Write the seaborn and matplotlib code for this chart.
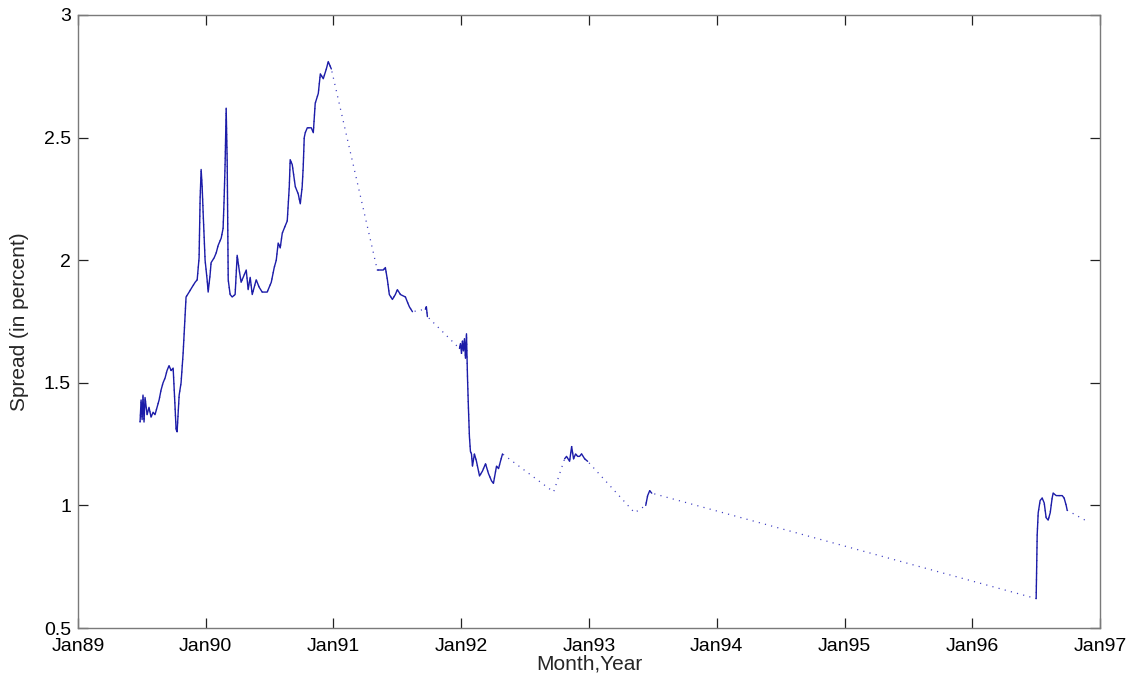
import matplotlib
matplotlib.use("Agg")
import matplotlib.pyplot as plt
from matplotlib.ticker import FormatStrFormatter
import numpy as np
import pandas as pd
import seaborn as sns

# Observation dates (decimal years) and yield spread in percent.
# Observations more than a few weeks apart are bridged by a dotted line.
years = [
    1989.486, 1989.494, 1989.502, 1989.509, 1989.517, 1989.525, 1989.541, 1989.556,
    1989.572, 1989.588, 1989.603, 1989.619, 1989.635, 1989.650, 1989.666, 1989.682,
    1989.697, 1989.713, 1989.729, 1989.745, 1989.760, 1989.768, 1989.776, 1989.792,
    1989.807, 1989.823, 1989.839, 1989.846, 1989.870, 1989.893, 1989.917, 1989.933,
    1989.948, 1989.956, 1989.964, 1989.972, 1989.980, 1989.995, 1990.011, 1990.019,
    1990.034, 1990.042, 1990.066, 1990.082, 1990.097, 1990.121, 1990.136, 1990.144,
    1990.152, 1990.160, 1990.168, 1990.176, 1990.191, 1990.207, 1990.230, 1990.246,
    1990.262, 1990.277, 1990.301, 1990.317, 1990.332, 1990.348, 1990.364, 1990.395,
    1990.418, 1990.442, 1990.481, 1990.513, 1990.536, 1990.552, 1990.567, 1990.583,
    1990.599, 1990.622, 1990.638, 1990.654, 1990.661, 1990.677, 1990.701, 1990.724,
    1990.740, 1990.755, 1990.763, 1990.771, 1990.779, 1990.795, 1990.826, 1990.842,
    1990.857, 1990.881, 1990.897, 1990.920, 1990.944, 1990.959, 1990.983,
    1991.343, 1991.367, 1991.390, 1991.406, 1991.422, 1991.437, 1991.461, 1991.484,
    1991.500, 1991.524, 1991.563, 1991.578, 1991.594, 1991.618,
    1991.719, 1991.727, 1991.735,
    1991.986, 1991.994, 1992.002, 1992.009, 1992.017, 1992.025, 1992.033, 1992.041,
    1992.049, 1992.056, 1992.064, 1992.072, 1992.080, 1992.088, 1992.103, 1992.119,
    1992.143, 1992.166, 1992.190, 1992.213, 1992.237, 1992.252, 1992.276, 1992.292,
    1992.307, 1992.323,
    1992.723,
    1992.809, 1992.824, 1992.848, 1992.864, 1992.879, 1992.895, 1992.911, 1992.926,
    1992.942, 1992.966, 1992.989,
    1993.357,
    1993.444, 1993.459, 1993.475, 1993.491,
    1996.500, 1996.508, 1996.516, 1996.531, 1996.547, 1996.563, 1996.578, 1996.594,
    1996.610, 1996.625, 1996.633, 1996.657, 1996.680, 1996.704, 1996.719, 1996.735,
    1996.743,
    1996.900,
]

spread = [
    1.34, 1.43, 1.35, 1.45, 1.34, 1.44, 1.37, 1.40,
    1.36, 1.38, 1.37, 1.40, 1.43, 1.47, 1.50, 1.52,
    1.55, 1.57, 1.55, 1.56, 1.40, 1.31, 1.30, 1.45,
    1.50, 1.62, 1.78, 1.85, 1.87, 1.89, 1.91, 1.92,
    2.01, 2.25, 2.37, 2.30, 2.19, 2.00, 1.92, 1.87,
    1.94, 1.99, 2.01, 2.03, 2.06, 2.09, 2.13, 2.25,
    2.40, 2.62, 2.40, 1.92, 1.86, 1.85, 1.86, 2.02,
    1.96, 1.91, 1.94, 1.96, 1.88, 1.93, 1.86, 1.92,
    1.89, 1.87, 1.87, 1.91, 1.97, 2.00, 2.07, 2.05,
    2.11, 2.14, 2.16, 2.30, 2.41, 2.39, 2.30, 2.27,
    2.23, 2.30, 2.38, 2.50, 2.52, 2.54, 2.54, 2.52,
    2.64, 2.68, 2.76, 2.74, 2.78, 2.81, 2.78,
    1.96, 1.96, 1.96, 1.97, 1.92, 1.86, 1.84, 1.86,
    1.88, 1.86, 1.85, 1.83, 1.81, 1.79,
    1.80, 1.81, 1.77,
    1.64, 1.66, 1.62, 1.67, 1.63, 1.68, 1.60, 1.70,
    1.52, 1.40, 1.28, 1.22, 1.21, 1.16, 1.21, 1.18,
    1.12, 1.14, 1.17, 1.13, 1.10, 1.09, 1.16, 1.15,
    1.18, 1.21,
    1.055,
    1.19, 1.20, 1.18, 1.24, 1.19, 1.21, 1.20, 1.20,
    1.21, 1.19, 1.18,
    0.97,
    1.00, 1.04, 1.06, 1.05,
    0.62, 0.88, 0.97, 1.02, 1.03, 1.01, 0.95, 0.94,
    0.97, 1.03, 1.05, 1.04, 1.04, 1.04, 1.03, 1.00,
    0.98,
    0.935,
]

tick_years = list(range(1989, 1998))
tick_labels = ["Jan%02d" % (y % 100) for y in tick_years]
y_ticks = [0.5, 1.0, 1.5, 2.0, 2.5, 3.0]

df = pd.DataFrame({"year": years, "spread": spread})
# consecutive observations form one run unless separated by a gap
df["run"] = (df["year"].diff().fillna(0) > 0.05).cumsum()

sns.set_style("ticks")
plt.rcParams["font.family"] = ["Liberation Sans", "DejaVu Sans"]

fig = plt.figure(figsize=(11.35, 6.75), dpi=100)
ax = fig.add_axes([0.0687, 0.0696, 0.9005, 0.9082])

line_color = "#1c1ca8"

# dotted connectors across every observation, including the gaps
sns.lineplot(data=df, x="year", y="spread", estimator=None, sort=False,
             color="#3a3ac0", linewidth=0.9, ax=ax,
             linestyle=(0, (0.9, 4.2)))
# solid line over each continuous run of observations
sns.lineplot(data=df, x="year", y="spread", units="run", estimator=None,
             sort=False, color=line_color, linewidth=1.0, ax=ax)

ax.set_xlim(1989, 1997)
ax.set_ylim(0.5, 3.0)
ax.set_xticks(tick_years)
ax.set_xticklabels(tick_labels)
ax.set_yticks(y_ticks)
ax.yaxis.set_major_formatter(FormatStrFormatter("%g"))

ax.tick_params(direction="in", length=7, width=0.9, colors="#222222",
               labelcolor="black", labelsize=14, top=True, right=True)
ax.tick_params(axis="x", pad=7)
ax.tick_params(axis="y", pad=5)
for lbl in ax.get_yticklabels():
    lbl.set_verticalalignment("center_baseline")
for side in ["left", "right", "top", "bottom"]:
    ax.spines[side].set_visible(True)
    ax.spines[side].set_color("#7a7a7a")
    ax.spines[side].set_linewidth(1.0)

ax.set_xlabel("Month,Year", fontsize=15)
ax.xaxis.set_label_coords(0.5, -0.044)
ax.set_ylabel("Spread (in percent)", fontsize=15)
ax.yaxis.set_label_coords(-0.048, 0.5)

fig.savefig("out.png", dpi=100)
